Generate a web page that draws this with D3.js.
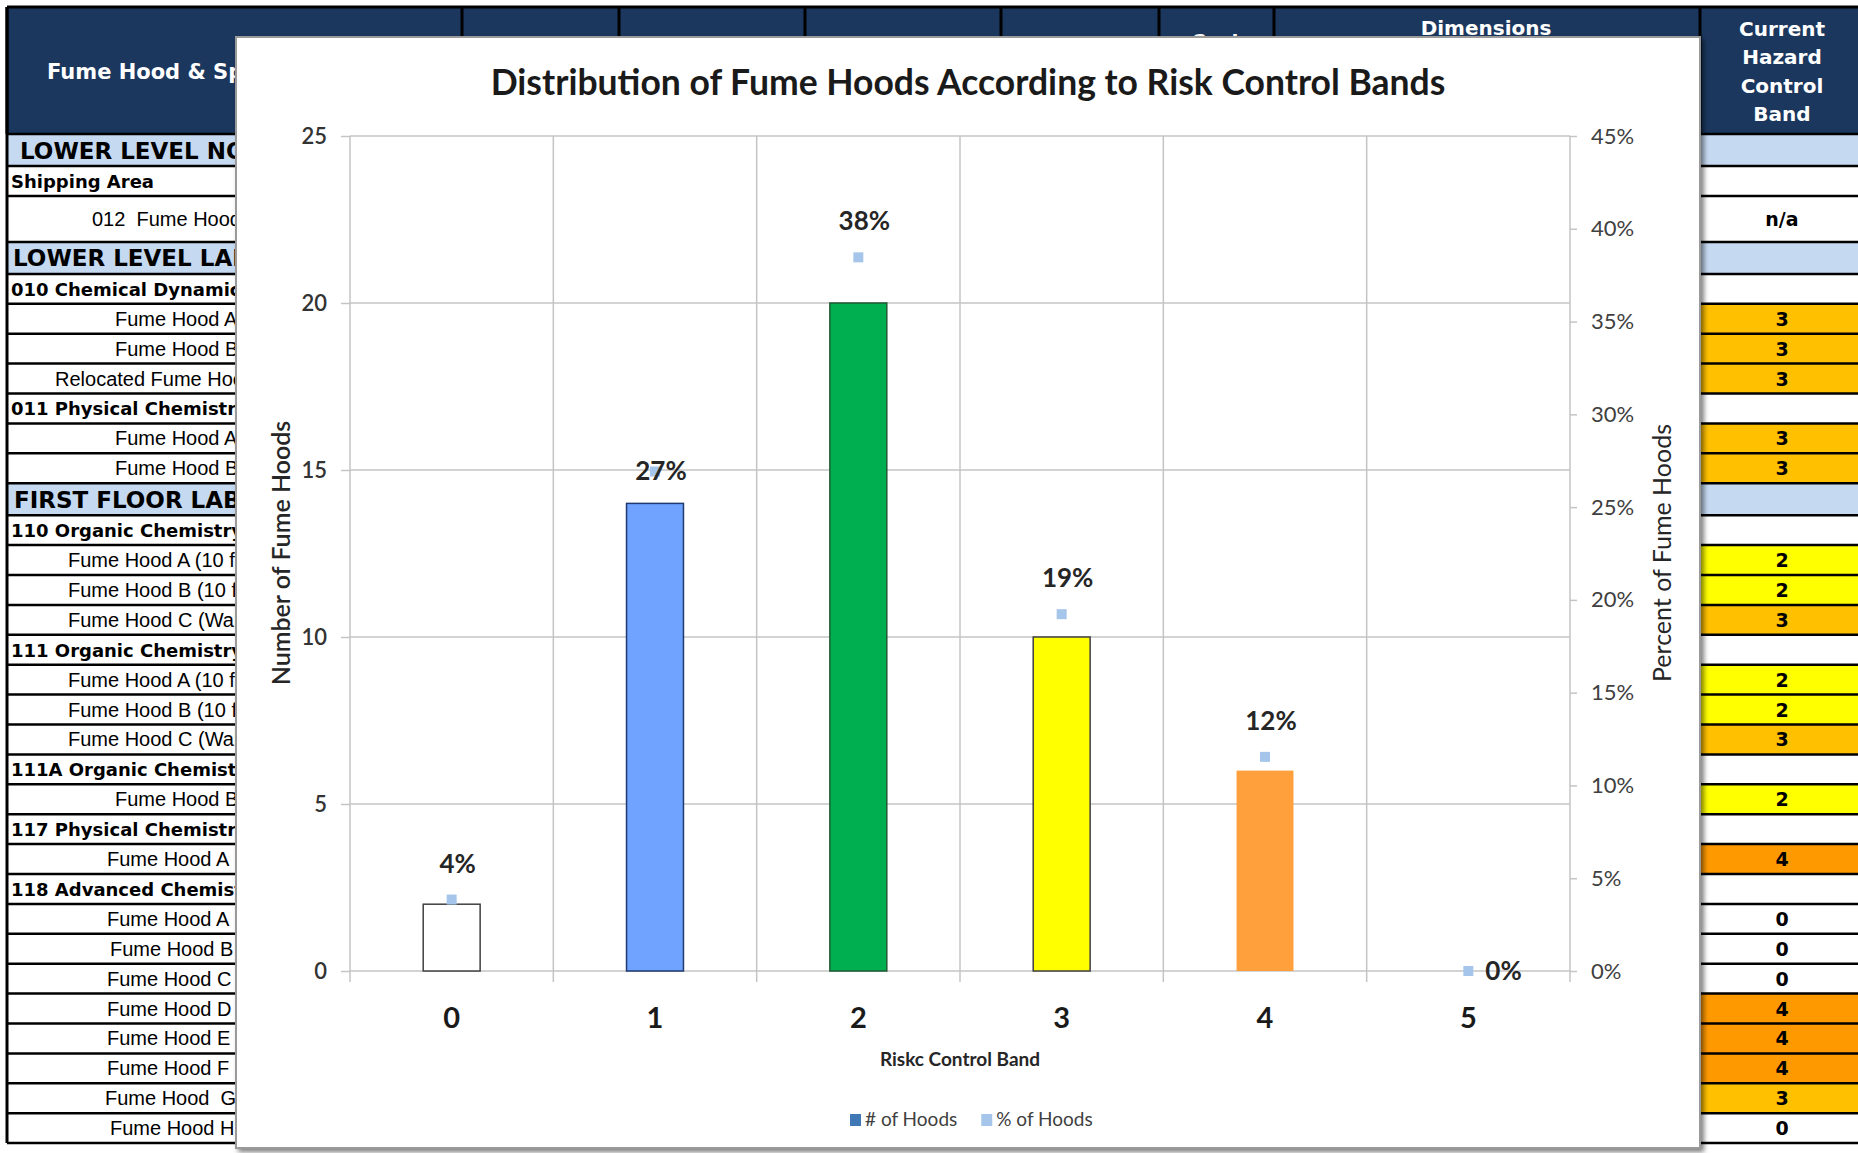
<!DOCTYPE html>
<html>
<head>
<meta charset="utf-8">
<script src="https://cdn.jsdelivr.net/npm/d3@7"></script>
<style>
  body { margin: 0; background: #fff; }
  svg { display: block; }
  text { white-space: pre; }
</style>
</head>
<body>
<svg id="sheet"></svg>
<script>
// --- chart data ---
const bands = ["0", "1", "2", "3", "4", "5"];
const hoodCounts = [2, 14, 20, 10, 6, 0];
const hoodPercents = [0.0385, 0.2692, 0.3846, 0.1923, 0.1154, 0];
const countTicks = [0, 5, 10, 15, 20, 25];
const percentTicks = [0, 0.05, 0.10, 0.15, 0.20, 0.25, 0.30, 0.35, 0.40, 0.45];
const seriesNames = ["# of Hoods", "% of Hoods"];
const labelPlacement = ["above", "over", "above", "above", "above", "right"];

// --- spreadsheet rows behind the chart ---
const rowLabels = [
    "LOWER LEVEL NORTH", "Shipping Area", "012  Fume Hood", "LOWER LEVEL LABS",
    "010 Chemical Dynamics Lab", "Fume Hood A", "Fume Hood B", "Relocated Fume Hood",
    "011 Physical Chemistry Lab", "Fume Hood A", "Fume Hood B", "FIRST FLOOR LABS",
    "110 Organic Chemistry Lab", "Fume Hood A (10 ft)", "Fume Hood B (10 ft)", "Fume Hood C (Walk-in)",
    "111 Organic Chemistry Lab", "Fume Hood A (10 ft)", "Fume Hood B (10 ft)", "Fume Hood C (Walk-in)",
    "111A Organic Chemistry Lab", "Fume Hood B", "117 Physical Chemistry Lab", "Fume Hood A",
    "118 Advanced Chemistry Lab", "Fume Hood A", "Fume Hood B", "Fume Hood C", "Fume Hood D",
    "Fume Hood E", "Fume Hood F", "Fume Hood  G", "Fume Hood H"
];
const rowKinds = [
    "section", "group", "tall", "section",
    "group", "item", "item", "item",
    "group", "item", "item", "section",
    "group", "item", "item", "item",
    "group", "item", "item", "item",
    "group", "item", "group", "item",
    "group", "item", "item", "item", "item",
    "item", "item", "item", "item"
];
const rowBands = [
    "", "", "n/a", "",
    "", "3", "3", "3",
    "", "3", "3", "",
    "", "2", "2", "3",
    "", "2", "2", "3",
    "", "2", "", "4",
    "", "0", "0", "0", "4",
    "4", "4", "3", "0"
];
const headerRightLines = ["Current", "Hazard", "Control", "Band"];

// indent of the (centred, wider) item texts in the first column
const rowIndent = [20, 11, 92, 13, 11, 115, 115, 55, 11, 115, 115, 14, 11, 68, 68, 68, 11, 68, 68, 68,
    11, 115, 11, 107, 11, 107, 110, 107, 107, 107, 107, 105, 110];

const W = 1858, H = 1153;
const svg = d3.select("#sheet").attr("width", W).attr("height", H);

const defs = svg.append("defs");
defs.append("clipPath").attr("id", "leftClip")
    .append("rect").attr("x", 0).attr("y", 0).attr("width", 236).attr("height", H);
defs.append("filter").attr("id", "shadow")
    .attr("x", "-5%").attr("y", "-5%").attr("width", "110%").attr("height", "110%")
    .append("feDropShadow")
    .attr("dx", 3).attr("dy", 3).attr("stdDeviation", 2.5)
    .attr("flood-color", "#000").attr("flood-opacity", 0.5);

// --- 1. Spreadsheet background ---
const navy = "#1b375e";
const sheetFont = "'Liberation Sans', Arial, sans-serif";
const wideFont = "'DejaVu Sans', Verdana, sans-serif";
const bandFill = { "2": "#ffff00", "3": "#ffc000", "4": "#ff9900" };
const kindHeight = { section: 32, group: 29.9, item: 29.9, tall: 46 };

const headerTop = 7, headerBottom = 134;
svg.append("rect").attr("x", 7).attr("y", headerTop).attr("width", W - 7)
    .attr("height", headerBottom - headerTop).attr("fill", navy);

[7, 462, 619, 805, 1001, 1159, 1274, 1700].forEach(x => {
    svg.append("line").attr("x1", x).attr("x2", x).attr("y1", headerTop).attr("y2", headerBottom)
        .attr("stroke", "#000").attr("stroke-width", 3);
});

const headerText = svg.append("g").attr("fill", "#fff").style("font-family", wideFont)
    .style("font-weight", "bold").style("font-size", "20px");
headerText.append("text").attr("x", 47).attr("y", 79).attr("clip-path", "url(#leftClip)")
    .style("font-size", "21px").text("Fume Hood & Space");
headerText.append("text").attr("x", 1216).attr("y", 48).attr("text-anchor", "middle").text("Cost");
headerText.append("text").attr("x", 1486).attr("y", 35).attr("text-anchor", "middle").text("Dimensions");
headerText.selectAll(".hz").data(headerRightLines).join("text")
    .attr("x", 1782).attr("y", (d, i) => 36 + i * 28.4)
    .attr("text-anchor", "middle").text(d => d);

// row layout
let yCursor = headerBottom;
const rows = rowLabels.map((label, i) => {
    const h = kindHeight[rowKinds[i]];
    const r = { label, kind: rowKinds[i], band: rowBands[i], indent: rowIndent[i], y: yCursor, h };
    yCursor += h;
    return r;
});
const tableBottom = yCursor;

const rowG = svg.selectAll(".row").data(rows).join("g").attr("class", "row");

rowG.append("rect").attr("x", 7).attr("y", d => d.y).attr("width", 229).attr("height", d => d.h)
    .attr("fill", d => d.kind === "section" ? "#c5d9f1" : "#fff");
rowG.append("rect").attr("x", 1700).attr("y", d => d.y).attr("width", W - 1700).attr("height", d => d.h)
    .attr("fill", d => d.kind === "section" ? "#c5d9f1" : (bandFill[d.band] || "#fff"));

const rowFont = { section: wideFont, group: wideFont, item: sheetFont, tall: sheetFont };
const rowSize = { section: "23px", group: "18px", item: "20px", tall: "20px" };
rowG.append("text")
    .attr("clip-path", "url(#leftClip)")
    .attr("x", d => d.indent)
    .attr("y", d => d.y + d.h / 2 + (d.kind === "section" ? 8.5 : 7))
    .style("font-family", d => rowFont[d.kind])
    .style("font-weight", d => d.kind === "section" || d.kind === "group" ? "bold" : "normal")
    .style("font-size", d => rowSize[d.kind])
    .attr("fill", "#000")
    .text(d => d.label);

rowG.append("text")
    .attr("x", 1782)
    .attr("y", d => d.y + d.h / 2 + 7)
    .attr("text-anchor", "middle")
    .style("font-family", wideFont).style("font-weight", "bold").style("font-size", "19px")
    .text(d => d.band);

// row borders
const borderYs = [headerBottom].concat(rows.map(r => r.y + r.h));
borderYs.forEach(y => {
    svg.append("line").attr("x1", 7).attr("x2", 236).attr("y1", y).attr("y2", y)
        .attr("stroke", "#000").attr("stroke-width", 2.5);
    svg.append("line").attr("x1", 1700).attr("x2", W).attr("y1", y).attr("y2", y)
        .attr("stroke", "#000").attr("stroke-width", 2.5);
});
svg.append("line").attr("x1", 7).attr("x2", 7).attr("y1", headerTop).attr("y2", tableBottom)
    .attr("stroke", "#000").attr("stroke-width", 3);
svg.append("line").attr("x1", 7).attr("x2", W).attr("y1", headerTop).attr("y2", headerTop)
    .attr("stroke", "#000").attr("stroke-width", 3);

// --- 2. Chart object floating on top ---
const chartFont = "Lato, 'Open Sans', sans-serif";
const frame = { x: 236, y: 37, w: 1464, h: 1111 };
svg.append("rect")
    .attr("x", frame.x).attr("y", frame.y).attr("width", frame.w).attr("height", frame.h)
    .attr("fill", "#fff").attr("stroke", "#9a9a9a").attr("stroke-width", 2)
    .attr("filter", "url(#shadow)");

const chart = svg.append("g").style("font-family", chartFont);

chart.append("text")
    .attr("x", frame.x + frame.w / 2).attr("y", 95)
    .attr("text-anchor", "middle")
    .style("font-size", "35.5px").style("font-weight", 700).attr("fill", "#1a1a1a")
    .text("Distribution of Fume Hoods According to Risk Control Bands");

const plot = { left: 350, right: 1570, top: 136, bottom: 971 };

const xBand = d3.scaleBand().domain(bands).range([plot.left, plot.right]);
const barW = xBand.bandwidth() * 0.28;
const yCount = d3.scaleLinear().domain([0, 25]).range([plot.bottom, plot.top]);
const yPct = d3.scaleLinear().domain([0, 0.45]).range([plot.bottom, plot.top]);

const gridColor = "#c4c4c4";

// horizontal gridlines
chart.append("g").selectAll("line").data(countTicks).join("line")
    .attr("x1", plot.left).attr("x2", plot.right)
    .attr("y1", d => yCount(d)).attr("y2", d => yCount(d))
    .attr("stroke", gridColor).attr("stroke-width", 1.5);

// vertical gridlines / category tick marks
const edges = bands.map(b => xBand(b)).concat([plot.right]);
chart.append("g").selectAll("line").data(edges).join("line")
    .attr("x1", d => d).attr("x2", d => d)
    .attr("y1", plot.top).attr("y2", plot.bottom + 11)
    .attr("stroke", gridColor).attr("stroke-width", 1.5);

// left axis
const leftAxis = chart.append("g")
    .attr("transform", `translate(${plot.left},0)`)
    .call(d3.axisLeft(yCount).tickValues(countTicks).tickSize(9).tickPadding(14));
leftAxis.select(".domain").remove();
leftAxis.selectAll(".tick line").attr("stroke", gridColor).attr("stroke-width", 1.5);
leftAxis.selectAll(".tick text").style("font-family", chartFont).style("font-size", "22px")
    .style("font-weight", 600).attr("fill", "#333");

// right axis
const rightAxis = chart.append("g")
    .attr("transform", `translate(${plot.right},0)`)
    .call(d3.axisRight(yPct).tickValues(percentTicks).tickSize(7).tickPadding(14).tickFormat(d3.format(".0%")));
rightAxis.select(".domain").remove();
rightAxis.selectAll(".tick line").attr("stroke", gridColor).attr("stroke-width", 1.5);
rightAxis.selectAll(".tick text").style("font-family", chartFont).style("font-size", "22px").attr("fill", "#404040");

// category axis
const bottomAxis = chart.append("g")
    .attr("transform", `translate(0,${plot.bottom})`)
    .call(d3.axisBottom(xBand).tickSize(0).tickPadding(36));
bottomAxis.select(".domain").remove();
bottomAxis.selectAll(".tick text").style("font-family", chartFont).style("font-size", "29px")
    .style("font-weight", "bold").attr("fill", "#1a1a1a");

// bars: one colour per risk band
const barFill = d3.scaleOrdinal().domain(bands)
    .range(["#ffffff", "#6fa3ff", "#00b050", "#ffff00", "#ffa03c", "#ffffff"]);
const barStroke = d3.scaleOrdinal().domain(bands)
    .range(["#404040", "#1f3a70", "#1e5a34", "#404040", "none", "none"]);

const barData = bands.map((b, i) => ({ band: b, count: hoodCounts[i], pct: hoodPercents[i], place: labelPlacement[i] }));

chart.append("g").selectAll("rect").data(barData).join("rect")
    .attr("x", d => xBand(d.band) + (xBand.bandwidth() - barW) / 2)
    .attr("y", d => yCount(d.count))
    .attr("width", barW)
    .attr("height", d => plot.bottom - yCount(d.count))
    .attr("fill", d => barFill(d.band))
    .attr("stroke", d => barStroke(d.band))
    .attr("stroke-width", 1.5);

// percent markers
const markerColor = "#a5c6ea";
const cx = d => xBand(d.band) + xBand.bandwidth() / 2;
chart.append("g").selectAll("rect").data(barData).join("rect")
    .attr("x", d => cx(d) - 5).attr("y", d => yPct(d.pct) - 5)
    .attr("width", 10).attr("height", 10)
    .attr("fill", markerColor);

// percent labels
chart.append("g").selectAll("text").data(barData).join("text")
    .attr("x", d => d.place === "right" ? cx(d) + 17 : cx(d) + 6)
    .attr("y", d => d.place === "above" ? yPct(d.pct) - 27 : yPct(d.pct) + 9)
    .attr("text-anchor", d => d.place === "right" ? "start" : "middle")
    .style("font-size", "26px").style("font-weight", 700).attr("fill", "#262626")
    .text(d => d3.format(".0%")(d.pct));

// axis titles
chart.append("text")
    .attr("transform", "translate(280,553) rotate(-90)")
    .attr("text-anchor", "middle").attr("dominant-baseline", "central")
    .style("font-size", "25px").style("font-weight", 600).attr("fill", "#262626")
    .text("Number of Fume Hoods");
chart.append("text")
    .attr("transform", "translate(1661,553) rotate(-90)")
    .attr("text-anchor", "middle").attr("dominant-baseline", "central")
    .style("font-size", "25px").attr("fill", "#262626")
    .text("Percent of Fume Hoods");
chart.append("text")
    .attr("x", (plot.left + plot.right) / 2).attr("y", 1066)
    .attr("text-anchor", "middle")
    .style("font-size", "19px").style("font-weight", 700).attr("fill", "#262626")
    .text("Riskc Control Band");

// legend
const legendColors = ["#3f78b5", markerColor];
const legend = chart.append("g").attr("transform", "translate(850,1120)");
let lx = 0;
seriesNames.forEach((name, i) => {
    const item = legend.append("g").attr("transform", `translate(${lx},0)`);
    item.append("rect").attr("x", 0).attr("y", -6).attr("width", 11).attr("height", 12).attr("fill", legendColors[i]);
    const t = item.append("text").attr("x", 15).attr("y", 6)
        .style("font-size", "19px").attr("fill", "#404040").text(name);
    lx += 15 + t.node().getComputedTextLength() + 24;
});
</script>
</body>
</html>
